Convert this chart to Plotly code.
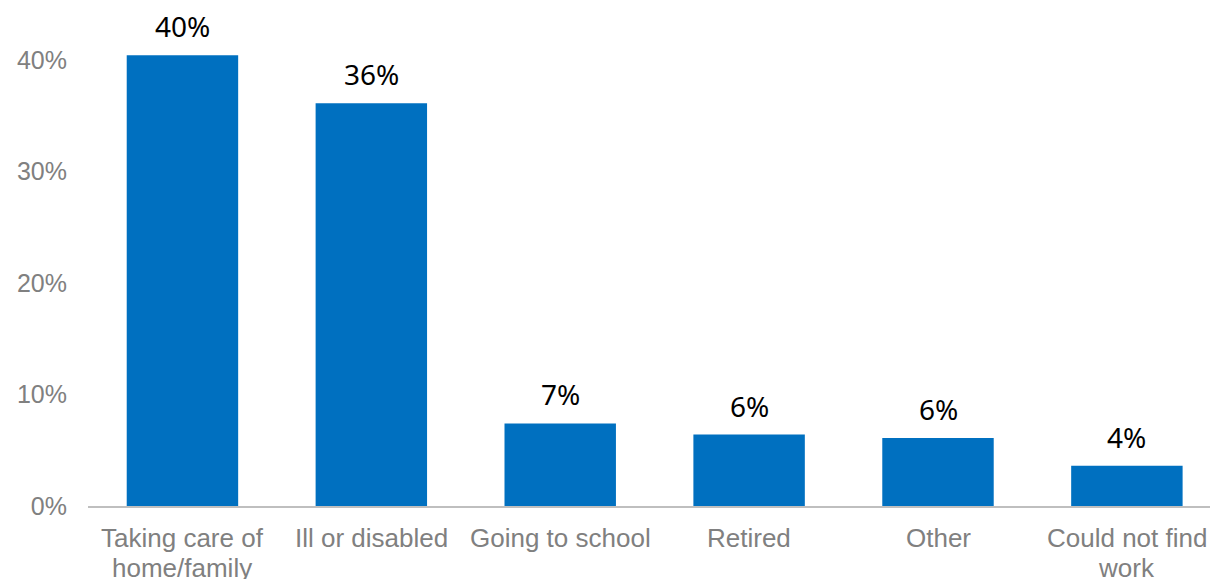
import plotly.graph_objects as go

categories = ["Taking care of<br>home/family", "Ill or disabled", "Going to school", "Retired", "Other", "Could not find<br>work"]
values = [40.4, 36.1, 7.4, 6.4, 6.1, 3.6]
labels = ["40%", "36%", "7%", "6%", "6%", "4%"]
tick_vals = [0, 10, 20, 30, 40]
tick_text = ["0%", "10%", "20%", "30%", "40%"]

xs = list(range(len(categories)))
fig = go.Figure(go.Bar(
    x=xs, y=values,
    marker=dict(color="#0070C0", line=dict(width=0)),
    width=0.59,
))
for x, v, t in zip(xs, values, labels):
    fig.add_annotation(x=x, y=v, text=t, showarrow=False, yanchor="bottom",
                       yshift=8, font=dict(family="Noto Sans", size=28, color="#000000"))
# category labels (two-line labels with tight line spacing)
for x, cat in zip(xs, categories):
    for j, line in enumerate(cat.split("<br>")):
        fig.add_annotation(x=x, y=0, text=line, showarrow=False, yanchor="middle",
                           yshift=-(32 + 30 * j), captureevents=False,
                           font=dict(family="Liberation Sans, Arial", size=26, color="#808080"))
fig.update_layout(
    width=1210, height=579,
    margin=dict(l=88, r=0, t=4, b=73, autoexpand=False),
    plot_bgcolor="white", paper_bgcolor="white",
    showlegend=False,
    font=dict(family="Liberation Sans, Arial", size=25, color="#808080"),
)
fig.update_xaxes(
    tickmode="array", tickvals=xs, showticklabels=False,
    range=[-0.5, 5.44], showline=True, linecolor="#bfbfbf", linewidth=2,
    showgrid=False, ticks="", automargin=False,
)
fig.update_yaxes(
    range=[0, 45], tickmode="array", tickvals=tick_vals, ticktext=tick_text,
    showgrid=False, zeroline=False, showline=False, ticks="",
    tickfont=dict(size=25, color="#808080"), ticklabelstandoff=20, automargin=False,
)
fig.write_html("out.html")
